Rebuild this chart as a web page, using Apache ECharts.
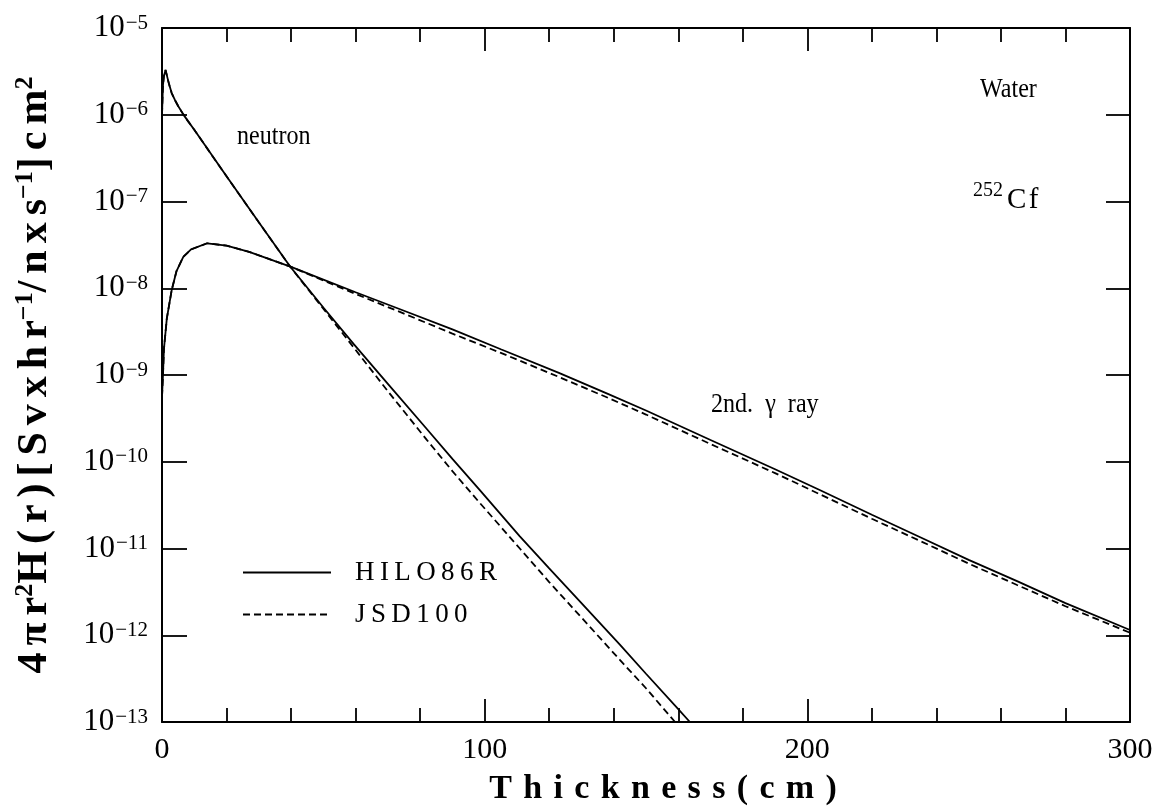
<!DOCTYPE html>
<html>
<head>
<meta charset="utf-8">
<title>252Cf in water: neutron and secondary gamma-ray dose</title>
<script src="https://cdn.jsdelivr.net/npm/echarts@6/dist/echarts.min.js"></script>
<style>
  html, body { margin: 0; padding: 0; background: #ffffff; }
  #chart { width: 1172px; height: 812px; }
</style>
</head>
<body>
<div id="chart"></div>
<script>
// Thickness of water (cm) and 4*pi*r^2*H(r) in [Sv/hr per n/s] cm^2
const neutronX_HILO = [0, 0.3, 0.6, 1.1, 1.6, 2.2, 3, 4, 5, 6.6, 8, 10, 20, 30, 39.7, 50, 59.3, 70, 82, 90, 98.5, 110.9, 120, 130, 141.9, 150, 160, 163.6];
const neutronHILO = [1.0e-6, 2.2e-6, 2.8e-6, 3.28e-6, 2.75e-6, 2.24e-6, 1.78e-6, 1.48e-6, 1.26e-6, 1.01e-6, 8.5e-7, 6.7e-7, 1.95e-7, 5.75e-8, 1.78e-8, 6.0e-9, 2.3e-9, 7.9e-10, 2.4e-10, 1.08e-10, 4.7e-11, 1.38e-11, 5.9e-12, 2.35e-12, 7.8e-13, 3.6e-13, 1.41e-13, 1.0e-13];

const neutronX_JSD = [0, 0.3, 0.6, 1.1, 1.6, 2.2, 3, 4, 5, 6.6, 8, 10, 20, 30, 39.7, 50, 59.3, 70, 82, 90, 98.5, 110.9, 120, 130, 141.9, 150, 159];
const neutronJSD = [1.0e-6, 2.2e-6, 2.8e-6, 3.28e-6, 2.75e-6, 2.24e-6, 1.78e-6, 1.48e-6, 1.26e-6, 1.01e-6, 8.5e-7, 6.7e-7, 1.95e-7, 5.75e-8, 1.78e-8, 5.8e-9, 2.1e-9, 6.5e-10, 1.8e-10, 7.8e-11, 3.35e-11, 1.0e-11, 4.1e-12, 1.6e-12, 5.2e-13, 2.45e-13, 1.0e-13];

const gammaX = [0, 0.3, 0.6, 1.5, 3, 4.5, 6.6, 9, 14, 20, 27, 40, 50, 60, 75, 90, 105, 123, 138, 150, 170, 190, 204, 220, 235, 250, 265, 280, 300];
const gammaHILO = [5.6e-10, 1.0e-9, 2.0e-9, 4.5e-9, 9.5e-9, 1.58e-8, 2.3e-8, 2.8e-8, 3.3e-8, 3.1e-8, 2.63e-8, 1.76e-8, 1.26e-8, 9.0e-9, 5.5e-9, 3.35e-9, 1.98e-9, 1.06e-9, 6.1e-10, 3.9e-10, 1.78e-10, 8.2e-11, 4.7e-11, 2.45e-11, 1.35e-11, 7.4e-12, 4.2e-12, 2.35e-12, 1.15e-12];
const gammaJSD = [5.6e-10, 1.0e-9, 2.0e-9, 4.5e-9, 9.5e-9, 1.58e-8, 2.3e-8, 2.8e-8, 3.3e-8, 3.1e-8, 2.63e-8, 1.76e-8, 1.23e-8, 8.6e-9, 5.1e-9, 3.0e-9, 1.8e-9, 9.5e-10, 5.5e-10, 3.5e-10, 1.6e-10, 7.4e-11, 4.2e-11, 2.2e-11, 1.22e-11, 6.7e-12, 3.8e-12, 2.16e-12, 1.07e-12];

const xTickLabels = ['0', '100', '200', '300'];
const libraryNames = ['HILO86R', 'JSD100'];

const SERIF = "'Liberation Serif', 'Times New Roman', serif";
const pairs = (xs, ys) => xs.map((x, i) => [x, ys[i]]);
const spaced = (s, gap) => s.split('').join(gap);

const solid = { color: '#000', width: 1.8, type: 'solid' };
const dashed = { color: '#000', width: 1.8, type: [7, 4] };

function lineSeries(name, data, style) {
  return {
    name: name, type: 'line', data: data, symbol: 'none', smooth: false,
    lineStyle: style, itemStyle: { color: '#000' }, clip: true,
    emphasis: { disabled: true }, animation: false
  };
}

const frameLine = { show: true, onZero: false, lineStyle: { color: '#000', width: 2 } };
const tickStyle = { color: '#000', width: 1.8 };

const chart = echarts.init(document.getElementById('chart'), null, { renderer: 'canvas' });

// y-axis title: 4πr²H(r)[Svxhr⁻¹/nxs⁻¹]cm²
const SIX = '\u2006';
const yTitle = '{m|' + spaced('4\u03c0r', SIX) + '}{s|2}{m|' + spaced('H(r)[Svxhr', SIX) + '}{s|\u22121}{m|' +
               spaced('/nxs', SIX) + '}{s|\u22121}{m|' + spaced(']cm', SIX) + '}{s|2}';

// legend keys are drawn as bare line samples (no marker)
const hiddenMarker = { opacity: 0, color: 'transparent', borderWidth: 0 };

const option = {
  backgroundColor: '#ffffff',
  animation: false,
  grid: { left: 162, right: 42, top: 28, bottom: 90, containLabel: false },
  legend: {
    data: libraryNames.map(n => ({ name: n, itemStyle: hiddenMarker })),
    orient: 'vertical',
    left: 237, top: 554,
    itemWidth: 88, itemHeight: 26, itemGap: 15,
    itemStyle: hiddenMarker,
    formatter: n => spaced(n, '\u2009'),
    textStyle: { fontFamily: SERIF, fontSize: 27, color: '#000', padding: [0, 0, 0, 19] },
    selectedMode: false
  },
  xAxis: [
    {
      type: 'value', min: 0, max: 300, interval: 100, position: 'bottom',
      axisLine: frameLine,
      axisTick: { show: true, inside: true, length: 23, lineStyle: tickStyle },
      minorTick: { show: true, splitNumber: 5, length: 14, lineStyle: tickStyle },
      splitLine: { show: false },
      axisLabel: {
        margin: 13, fontFamily: SERIF, fontSize: 30, color: '#000',
        formatter: v => xTickLabels[Math.round(v / 100)]
      },
      name: spaced('Thickness(cm)', '\u2004'),
      nameLocation: 'middle', nameGap: 50,
      nameTextStyle: { fontFamily: SERIF, fontSize: 34, fontWeight: 'bold', color: '#000', padding: [0, 0, 0, 34] }
    },
    {
      type: 'value', min: 0, max: 300, interval: 100, position: 'top',
      axisLine: frameLine,
      axisTick: { show: true, inside: true, length: 23, lineStyle: tickStyle },
      minorTick: { show: true, splitNumber: 5, length: 14, lineStyle: tickStyle },
      splitLine: { show: false },
      axisLabel: { show: false }
    }
  ],
  yAxis: [
    {
      type: 'log', logBase: 10, min: 1e-13, max: 1e-5, position: 'left',
      axisLine: frameLine,
      axisTick: { show: true, inside: true, length: 25, lineStyle: tickStyle },
      minorTick: { show: false },
      splitLine: { show: false },
      axisLabel: {
        margin: 14, color: '#000',
        formatter: v => '{b|10}{s|\u2212' + (-Math.round(Math.log10(v))) + '}',
        rich: {
          b: { fontFamily: SERIF, fontSize: 31, lineHeight: 31, padding: [8, 1, 8, 0], color: '#000' },
          s: { fontFamily: SERIF, fontSize: 21, lineHeight: 21, verticalAlign: 'top', color: '#000' }
        }
      },
      name: yTitle,
      nameLocation: 'middle', nameRotate: 90, nameGap: 104,
      nameTextStyle: {
        rich: {
          m: { fontFamily: SERIF, fontSize: 42, fontWeight: 'bold', lineHeight: 46, color: '#000' },
          s: { fontFamily: SERIF, fontSize: 26, fontWeight: 'bold', lineHeight: 26, verticalAlign: 'top', color: '#000' }
        }
      }
    },
    {
      type: 'log', logBase: 10, min: 1e-13, max: 1e-5, position: 'right',
      axisLine: frameLine,
      axisTick: { show: true, inside: true, length: 24, lineStyle: tickStyle },
      minorTick: { show: false },
      splitLine: { show: false },
      axisLabel: { show: false }
    }
  ],
  series: [
    lineSeries('HILO86R', pairs(neutronX_HILO, neutronHILO), solid),
    lineSeries('HILO86R', pairs(gammaX, gammaHILO), solid),
    lineSeries('JSD100', pairs(neutronX_JSD, neutronJSD), dashed),
    lineSeries('JSD100', pairs(gammaX, gammaJSD), dashed)
  ],
  graphic: [
    {
      type: 'text', x: 237, y: 137, scaleX: 0.86,
      style: { text: 'neutron', font: '28px ' + SERIF, fill: '#000', textVerticalAlign: 'middle' }
    },
    {
      type: 'text', x: 980, y: 90, scaleX: 0.86,
      style: { text: 'Water', font: '28px ' + SERIF, fill: '#000', textVerticalAlign: 'middle' }
    },
    {
      type: 'text', x: 711, y: 405, scaleX: 0.86,
      style: { text: '2nd.  \u03b3  ray', font: '28px ' + SERIF, fill: '#000', textVerticalAlign: 'middle' }
    },
    {
      type: 'text', x: 973, y: 196,
      style: {
        text: '{s|252}{c|C\u200af}',
        textVerticalAlign: 'middle',
        rich: {
          s: { fontFamily: SERIF, fontSize: 20, lineHeight: 20, verticalAlign: 'top', fill: '#000' },
          c: { fontFamily: SERIF, fontSize: 29, lineHeight: 30, padding: [8, 0, 0, 4], fill: '#000' }
        }
      }
    }
  ]
};

chart.setOption(option);
</script>
</body>
</html>
